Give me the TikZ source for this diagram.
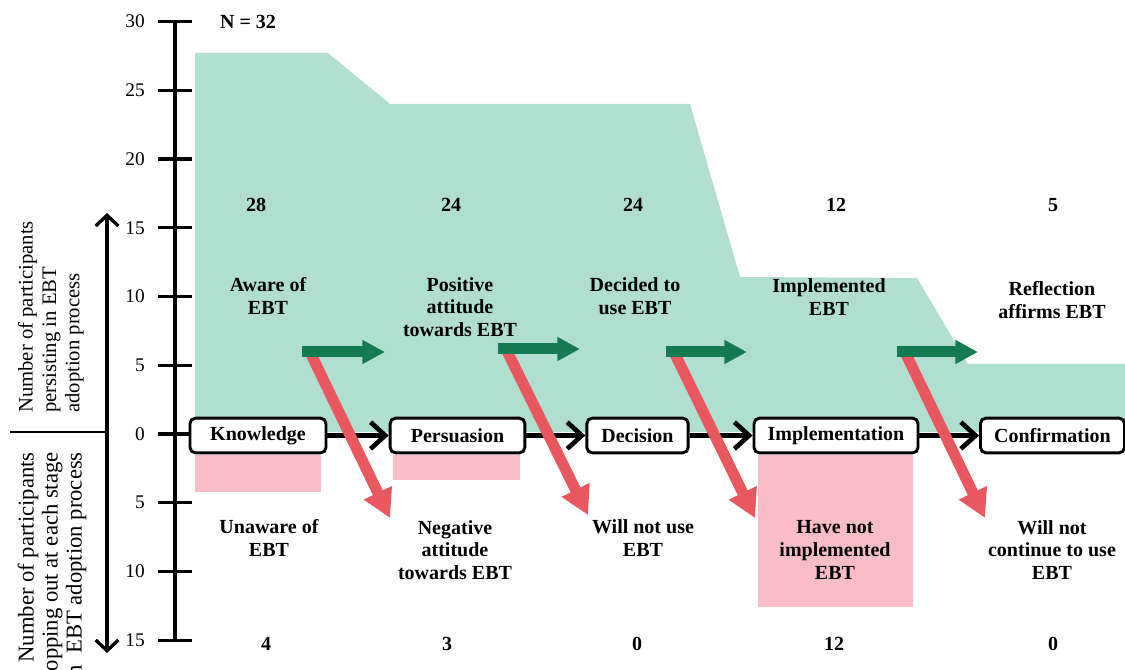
\documentclass[tikz,border=0pt]{standalone}
\usepackage{fontspec}
\setmainfont{LiberationSerif}[Extension=.ttf,UprightFont=*-Regular,BoldFont=*-Bold,ItalicFont=*-Italic,BoldItalicFont=*-BoldItalic]
\usepackage{tikz}
\usetikzlibrary{arrows.meta,positioning}
\definecolor{keepfill}{RGB}{176,223,208}
\definecolor{dropfill}{RGB}{249,189,200}
\definecolor{keeparrow}{RGB}{20,122,82}
\definecolor{droparrow}{RGB}{232,88,94}

\begin{document}
\begin{tikzpicture}[x=0.75pt,y=-0.75pt,
  stage/.style={rectangle,rounded corners=4pt,draw,line width=2.2pt,fill=white,
                minimum height=26pt,inner sep=0pt,font=\fontsize{15}{17}\selectfont\bfseries},
  lbl/.style={align=center,inner sep=0pt,font=\fontsize{15}{17}\selectfont\bfseries},
  num/.style={anchor=east,inner sep=0pt,font=\fontsize{14.5}{17}\selectfont},
  flow/.style={line width=3.5pt,-{Straight Barb[length=11pt,width=20pt]}},
  keep/.style={line width=8.25pt,keeparrow,-{Triangle[length=17pt,width=17pt]}},
  drop/.style={line width=8.25pt,droparrow,-{Triangle[length=21pt,width=22pt]}},
  tick/.style={line width=2.5pt}
]
  \useasboundingbox (0,0) rectangle (1125,670);

  % participants still in the process
  \fill[keepfill] (195,53) -- (328,53) -- (390,104) -- (690,104) -- (740,277) -- (917,278)
    -- (968,364) -- (1125,364) -- (1125,432) -- (195,432) -- cycle;
  % participants dropping out
  \fill[dropfill] (195,455) rectangle (321,492);
  \fill[dropfill] (393,455) rectangle (520,480);
  \fill[dropfill] (758,455) rectangle (913,607);

  % axis
  \coordinate (axtop) at (175,21.5);
  \coordinate (axbot) at (175,640);
  \draw[tick] (axtop) -- (axbot);
  \foreach \v in {30,25,...,0}{
    \draw[tick] (158,434-\v*13.75) -- (192,434-\v*13.75);
    \node[num] at (145,434-\v*13.75) {\v};
  }
  \foreach \v in {5,10,15}{
    \draw[tick] (158,434+\v*13.75) -- (192,434+\v*13.75);
    \node[num] at (145,434+\v*13.75) {\v};
  }
  \coordinate (uptip) at (107,213);
  \coordinate (downtip) at (107,653);
  \coordinate (split) at (107,432);
  \coordinate (splitend) at (10,432);
  \draw[line width=2.5pt,{Straight Barb[length=8pt,width=17pt]}-{Straight Barb[length=8pt,width=17pt]}] (uptip) -- (downtip);
  \draw[line width=2.2pt] (splitend) -- (split);
  \node[rotate=90,anchor=west,align=left,inner sep=0pt,font=\fontsize{15.5}{17.5}\selectfont] (uplbl) at (51,413)
    {Number of participants\\persisting in EBT\\adoption process};
  \node[rotate=90,anchor=east,align=right,inner sep=0pt,font=\fontsize{17}{18}\selectfont] (downlbl) at (52,452)
    {Number of participants\\dropping out at each stage\\in\ \ EBT adoption process};
  \node[lbl] (total) at (248,22) {N = 32};

  % stages
  \node[stage,minimum width=102pt] (know) at (258,435.5) {Knowledge};
  \node[stage,minimum width=101pt] (pers) at (457.5,435.5) {Persuasion};
  \node[stage,minimum width=76pt] (deci) at (637.5,435.5) {Decision};
  \node[stage,minimum width=123pt] (impl) at (836,435.5) {Implementation};
  \node[stage,minimum width=108pt] (conf) at (1052.5,435.5) {Confirmation};
  \draw[flow] (know) -- (pers);
  \draw[flow] (pers) -- (deci);
  \draw[flow] (deci) -- (impl);
  \draw[flow] (impl) -- (conf);

  % who leaves, who goes on
  \coordinate (k0) at (309,350); \coordinate (k1) at (390,518);
  \coordinate (p0) at (505,347); \coordinate (p1) at (588,515);
  \coordinate (d0) at (673,350); \coordinate (d1) at (755,518);
  \coordinate (i0) at (904,350); \coordinate (i1) at (985,518);
  \draw[drop] (k0) -- (k1);
  \draw[drop] (p0) -- (p1);
  \draw[drop] (d0) -- (d1);
  \draw[drop] (i0) -- (i1);
  \coordinate (kg0) at (302,352); \coordinate (kg1) at (385,352);
  \coordinate (pg0) at (498,349); \coordinate (pg1) at (580,349);
  \coordinate (dg0) at (666,352); \coordinate (dg1) at (747,352);
  \coordinate (ig0) at (897,352); \coordinate (ig1) at (978,352);
  \draw[keep] (kg0) -- (kg1);
  \draw[keep] (pg0) -- (pg1);
  \draw[keep] (dg0) -- (dg1);
  \draw[keep] (ig0) -- (ig1);

  % persisting
  \node[lbl] (n28) at (256,205) {28};
  \node[lbl] (n24a) at (451,205) {24};
  \node[lbl] (n24b) at (633,205) {24};
  \node[lbl] (n12) at (836,205) {12};
  \node[lbl] (n5) at (1053,205) {5};
  \node[lbl] (aware) at (268,296) {Aware of\\EBT};
  \node[lbl] (posit) at (460,307) {Positive\\attitude\\towards EBT};
  \node[lbl] (decid) at (635,296) {Decided to\\use EBT};
  \node[lbl] (implt) at (829,297) {Implemented\\EBT};
  \node[lbl] (refl) at (1052,300) {Reflection\\affirms EBT};

  % dropping out
  \node[lbl] (unaw) at (269,538) {Unaware of\\EBT};
  \node[lbl] (negat) at (455,550) {Negative\\attitude\\towards EBT};
  \node[lbl] (wnu) at (643,538) {Will not use\\EBT};
  \node[lbl] (hni) at (835,550) {Have not\\implemented\\EBT};
  \node[lbl] (wnc) at (1052,550) {Will not\\continue to use\\EBT};
  \node[lbl] (m4) at (266,644) {4};
  \node[lbl] (m3) at (447,644) {3};
  \node[lbl] (m0a) at (637,644) {0};
  \node[lbl] (m12) at (834,644) {12};
  \node[lbl] (m0b) at (1053,644) {0};
\end{tikzpicture}
\end{document}
